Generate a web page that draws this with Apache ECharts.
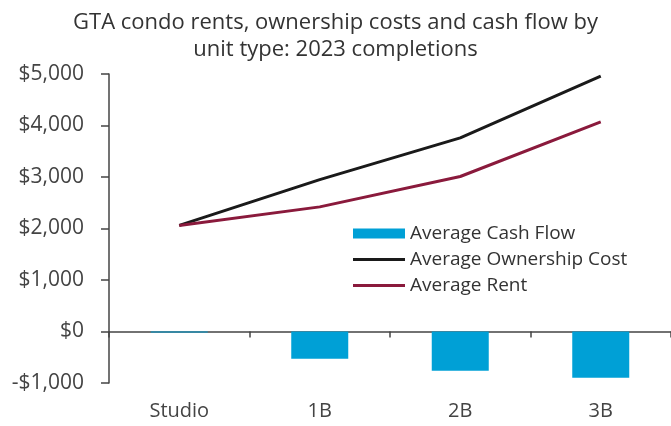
<!DOCTYPE html>
<html>
<head>
	<meta charset="utf-8">
	<title>GTA condo rents</title>
	<script src="https://cdn.jsdelivr.net/npm/echarts@6/dist/echarts.min.js"></script>
	<style>
		html, body { margin: 0; padding: 0; background: #fff; }
	</style>
</head>
<body>
	<div style="width:671px;height:426px;" id="chart1"></div>
	<script type="text/javascript">

    var unitTypes = ['Studio', '1B', '2B', '3B'];
    var cashFlow = [-20, -530, -760, -900];
    var ownershipCost = [2060, 2950, 3760, 4960];
    var avgRent = [2060, 2420, 3010, 4070];

    var font = '"Open Sans", Lato, sans-serif';
    var axisColor = '#444';
    var lineIcon = 'path://M0,0H52V3H0Z';

    function show(){
        var dom = document.getElementById('chart1');
        var myChart = echarts.init(dom);
        var option = {
            textStyle: { fontFamily: font },
            title: {
                text: 'GTA condo rents, ownership costs and cash flow by\nunit type: 2023 completions',
                left: 'center',
                top: 4,
                textStyle: {
                    fontFamily: font,
                    fontWeight: 'normal',
                    fontSize: 22,
                    lineHeight: 27,
                    color: '#333'
                }
            },
            legend: {
                orient: 'vertical',
                left: 348,
                top: 219,
                itemWidth: 52,
                itemHeight: 10,
                itemGap: 7,
                textStyle: { fontFamily: font, fontSize: 19, color: '#333' },
                data: [
                    { name: 'Average Cash Flow', icon: 'rect' },
                    { name: 'Average Ownership Cost', icon: lineIcon },
                    { name: 'Average Rent', icon: lineIcon }
                ]
            },
            grid: { left: 109, right: 0, top: 74, bottom: 43, outerBoundsMode: 'none' },
            xAxis: {
                type: 'category',
                data: unitTypes,
                axisLine: { onZero: true, lineStyle: { color: axisColor, width: 1.5 } },
                axisTick: { show: true, length: 6, lineStyle: { color: axisColor, width: 1.5 } },
                axisLabel: { fontFamily: font, fontSize: 20, color: '#444', margin: 18 }
            },
            yAxis: {
                type: 'value',
                min: -1000,
                max: 5000,
                interval: 1000,
                splitLine: { show: false },
                axisLine: { show: true, lineStyle: { color: axisColor, width: 1.5 } },
                axisTick: { show: true, length: 8, lineStyle: { color: axisColor, width: 1.5 } },
                axisLabel: {
                    fontFamily: font,
                    fontSize: 21,
                    color: '#444',
                    margin: 25,
                    formatter: function (v) {
                        var s = '$' + Math.abs(v).toLocaleString('en-US');
                        return v < 0 ? '-' + s : s;
                    }
                }
            },
            series: [
                {
                    name: 'Average Cash Flow',
                    type: 'bar',
                    data: cashFlow,
                    barWidth: 57,
                    itemStyle: { color: '#00a0d6' }
                },
                {
                    name: 'Average Ownership Cost',
                    type: 'line',
                    data: ownershipCost,
                    symbol: 'none',
                    lineStyle: { color: '#1a1a1a', width: 3 },
                    itemStyle: { color: '#1a1a1a' }
                },
                {
                    name: 'Average Rent',
                    type: 'line',
                    data: avgRent,
                    symbol: 'none',
                    lineStyle: { color: '#8a1a3c', width: 3 },
                    itemStyle: { color: '#8a1a3c' }
                }
            ]
        };
        myChart.setOption(option, true);
    }

    show();

	</script>
</body>
</html>
